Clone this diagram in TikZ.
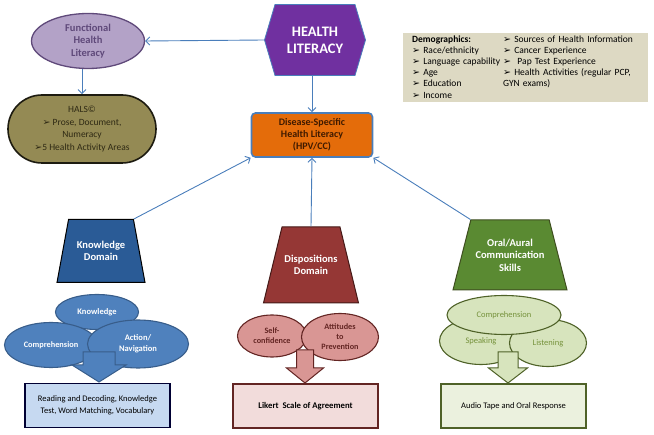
\documentclass[tikz,border=0pt]{standalone}
\usepackage{fontspec}
\setmainfont{Carlito}
\newfontfamily\symfont{DejaVu Sans}
\usepackage{xcolor}
\usepackage{tikz}
\usetikzlibrary{arrows.meta, positioning, shapes.geometric, shapes.misc, shapes.symbols}

\definecolor{linkblue}{HTML}{4A7EBB}
\definecolor{lavfill}{HTML}{B3A2C7}
\definecolor{lavdraw}{HTML}{5F497A}
\definecolor{halsfill}{HTML}{948A54}
\definecolor{halsdraw}{HTML}{1D1B10}
\definecolor{halstext}{HTML}{2E2914}
\definecolor{hexfill}{HTML}{7030A0}
\definecolor{dshlfill}{HTML}{E46C0A}
\definecolor{dshltext}{HTML}{3F1A00}
\definecolor{demofill}{HTML}{DDD9C3}
\definecolor{kdfill}{HTML}{2A5B96}
\definecolor{ddfill}{HTML}{953735}
\definecolor{ocfill}{HTML}{5A8A32}
\definecolor{kblue}{HTML}{4F81BD}
\definecolor{kbluedraw}{HTML}{385D8A}
\definecolor{dpink}{HTML}{D99694}
\definecolor{dred}{HTML}{632523}
\definecolor{olight}{HTML}{D7E4BD}
\definecolor{odraw}{HTML}{4F6228}
\definecolor{otext}{HTML}{76923C}
\definecolor{kres}{HTML}{C6D9F1}
\definecolor{dres}{HTML}{F2DCDB}
\definecolor{ores}{HTML}{EBF1DE}

\newcommand{\bul}{{\symfont\char"27A2}}

\begin{document}
\begin{tikzpicture}[
  x=1pt, y=-1pt,
  every node/.style={inner sep=1pt, align=center},
  link/.style={draw=linkblue, line width=0.9pt, -{Straight Barb[length=4pt, width=8pt]}},
  hexa/.style={signal, signal to=west and east, signal pointer angle=147, inner sep=0pt,
    minimum width=101, minimum height=71, fill=hexfill, draw=linkblue, line width=0.8pt,
    text=white, font=\fontsize{14.5}{17}\selectfont\bfseries},
  dom/.style={trapezium, trapezium stretches body=true, inner xsep=1pt, line width=1pt, text=white,
    font=\fontsize{10.5}{12.5}\selectfont\bfseries},
  oval/.style={ellipse, inner sep=0pt, line width=1.1pt},
  result/.style={rectangle, line width=1.2pt, minimum width=145, minimum height=44,
    font=\fontsize{8.5}{12}\selectfont},
  bigarrow/.style={line width=1pt, line join=miter},
]
  \useasboundingbox (0,0) rectangle (654,435);

  % top row
  \node[hexa] (hl) at (315,40) {HEALTH\\LITERACY};
  \node[oval, fill=lavfill, draw=lavdraw, line width=1.3pt, text=lavdraw,
    minimum width=113, minimum height=55, font=\fontsize{10.5}{12.5}\selectfont\bfseries]
    (fhl) at (88,41) {Functional\\Health\\Literacy};
  \node[rounded rectangle, fill=halsfill, draw=halsdraw, line width=1.6pt, text=halstext,
    minimum width=150, minimum height=68, font=\fontsize{9.5}{12.4}\selectfont]
    (hals) at (82,129) {HALS\textcopyright\\\bul{} Prose, Document,\\Numeracy\\\bul5 Health Activity Areas};
  \node[rectangle, rounded corners=4pt, fill=dshlfill, draw=linkblue, line width=1.6pt, text=dshltext,
    minimum width=121, minimum height=44, font=\fontsize{10}{12}\selectfont\bfseries]
    (dshl) at (312,135) {Disease-Specific\\Health Literacy\\(HPV/CC)};
  \node[rectangle, fill=demofill, anchor=north west, align=left, inner xsep=9pt, inner ysep=1pt,
    text width=227, minimum height=69, font=\fontsize{9.5}{11.2}\selectfont]
    (demo) at (403,33) {%
    \begin{tabular}{@{}p{91pt}@{}l@{}}
      \textbf{Demographics:} & \bul{} Sources of Health Information\\
      \bul{} Race/ethnicity & \bul{} Cancer Experience\\
      \bul{} Language capability & \bul{} \ Pap Test Experience\\
      \bul{} Age & \bul{} Health Activities (regular PCP,\\
      \bul{} Education & GYN exams)\\
      \bul{} Income &
    \end{tabular}};

  % domains
  \node[dom, fill=kdfill, draw=black, trapezium angle=79.6, minimum width=88, minimum height=63,
    inner ysep=21.5pt] (kd) at (101,251) {Knowledge\\Domain};
  \node[dom, fill=ddfill, draw=dred!70!black, trapezium angle=76.3, minimum width=95, minimum height=76,
    inner ysep=28pt] (dd) at (311,265) {Dispositions\\Domain};
  \node[dom, fill=ocfill, draw=odraw!80!black, trapezium angle=75.2, minimum width=114, minimum height=70,
    inner ysep=17.5pt] (oc) at (510,255) {Oral/Aural\\Communication\\Skills};

  \draw[link] (hl.west) -- (fhl.east);
  \draw[link] (hals.north |- fhl.south) -- (hals.north);
  \draw[link] (dshl.north |- hl.south) -- (dshl.north);
  \draw[link] (kd.top right corner) -- (dshl.south west);
  \draw[link] (dd.north) -- (dshl.south);
  \draw[link] (oc.top left corner) -- (dshl.south east);

  % knowledge ovals
  \node[oval, fill=kblue, draw=kbluedraw, text=white, minimum width=83, minimum height=35,
    font=\fontsize{8.5}{10}\selectfont\bfseries] (kk) at (97,312) {Knowledge};
  \node[oval, fill=kblue, draw=kbluedraw, text=white, minimum width=93, minimum height=45,
    font=\fontsize{8.3}{10}\selectfont\bfseries] (kc) at (51,345) {Comprehension};
  \node[oval, fill=kblue, draw=kbluedraw, text=white, minimum width=101, minimum height=48,
    font=\fontsize{8.5}{11}\selectfont\bfseries] (ka) at (138,344) {Action/\\Navigation};

  % dispositions ovals
  \node[oval, fill=dpink, draw=dred, text=dred, minimum width=69, minimum height=42,
    font=\fontsize{8.2}{10}\selectfont\bfseries] (ds) at (272,336) {Self-\\confidence};
  \node[oval, fill=dpink, draw=dred, text=dred, minimum width=77, minimum height=47,
    font=\fontsize{8.2}{10}\selectfont\bfseries] (da) at (340,337) {Attitudes\\to\\Prevention};

  % oral ovals
  \node[oval, fill=olight, draw=odraw, text=otext, minimum width=83, minimum height=47,
    font=\fontsize{8.5}{10}\selectfont] (os) at (481,341) {Speaking};
  \node[oval, fill=olight, draw=odraw, text=otext, minimum width=77, minimum height=47,
    font=\fontsize{8.5}{10}\selectfont] (ol) at (548,343) {Listening};
  \node[oval, fill=olight, draw=odraw, text=otext, minimum width=114, minimum height=39,
    font=\fontsize{8.5}{10}\selectfont] (ocmp) at (504,315) {Comprehension};

  % block arrows
  \draw[bigarrow, fill=kblue, draw=kbluedraw] (83,352) -- (115,352) -- (115,365) -- (126,365)
    -- (99,382) -- (72,365) -- (83,365) -- cycle;
  \draw[bigarrow, fill=dpink, draw=dred] (296.5,350) -- (313.5,350) -- (313.5,368) -- (323.5,368)
    -- (305,383) -- (286.5,368) -- (296.5,368) -- cycle;
  \draw[bigarrow, fill=olight, draw=odraw] (498,352) -- (518,352) -- (518,368) -- (527.5,368)
    -- (508,383) -- (488.5,368) -- (498,368) -- cycle;

  % results
  \node[result, fill=kres, draw=black!80!blue] (kr) at (97.5,405.5)
    {Reading and Decoding, Knowledge\\Test, Word Matching, Vocabulary};
  \node[result, fill=dres, draw=dred, font=\fontsize{8.7}{12}\selectfont\bfseries] (dr) at (305.5,406)
    {Likert\ \ Scale of Agreement};
  \node[result, fill=ores, draw=odraw] (or) at (513.5,406) {Audio Tape and Oral Response};
\end{tikzpicture}
\end{document}
